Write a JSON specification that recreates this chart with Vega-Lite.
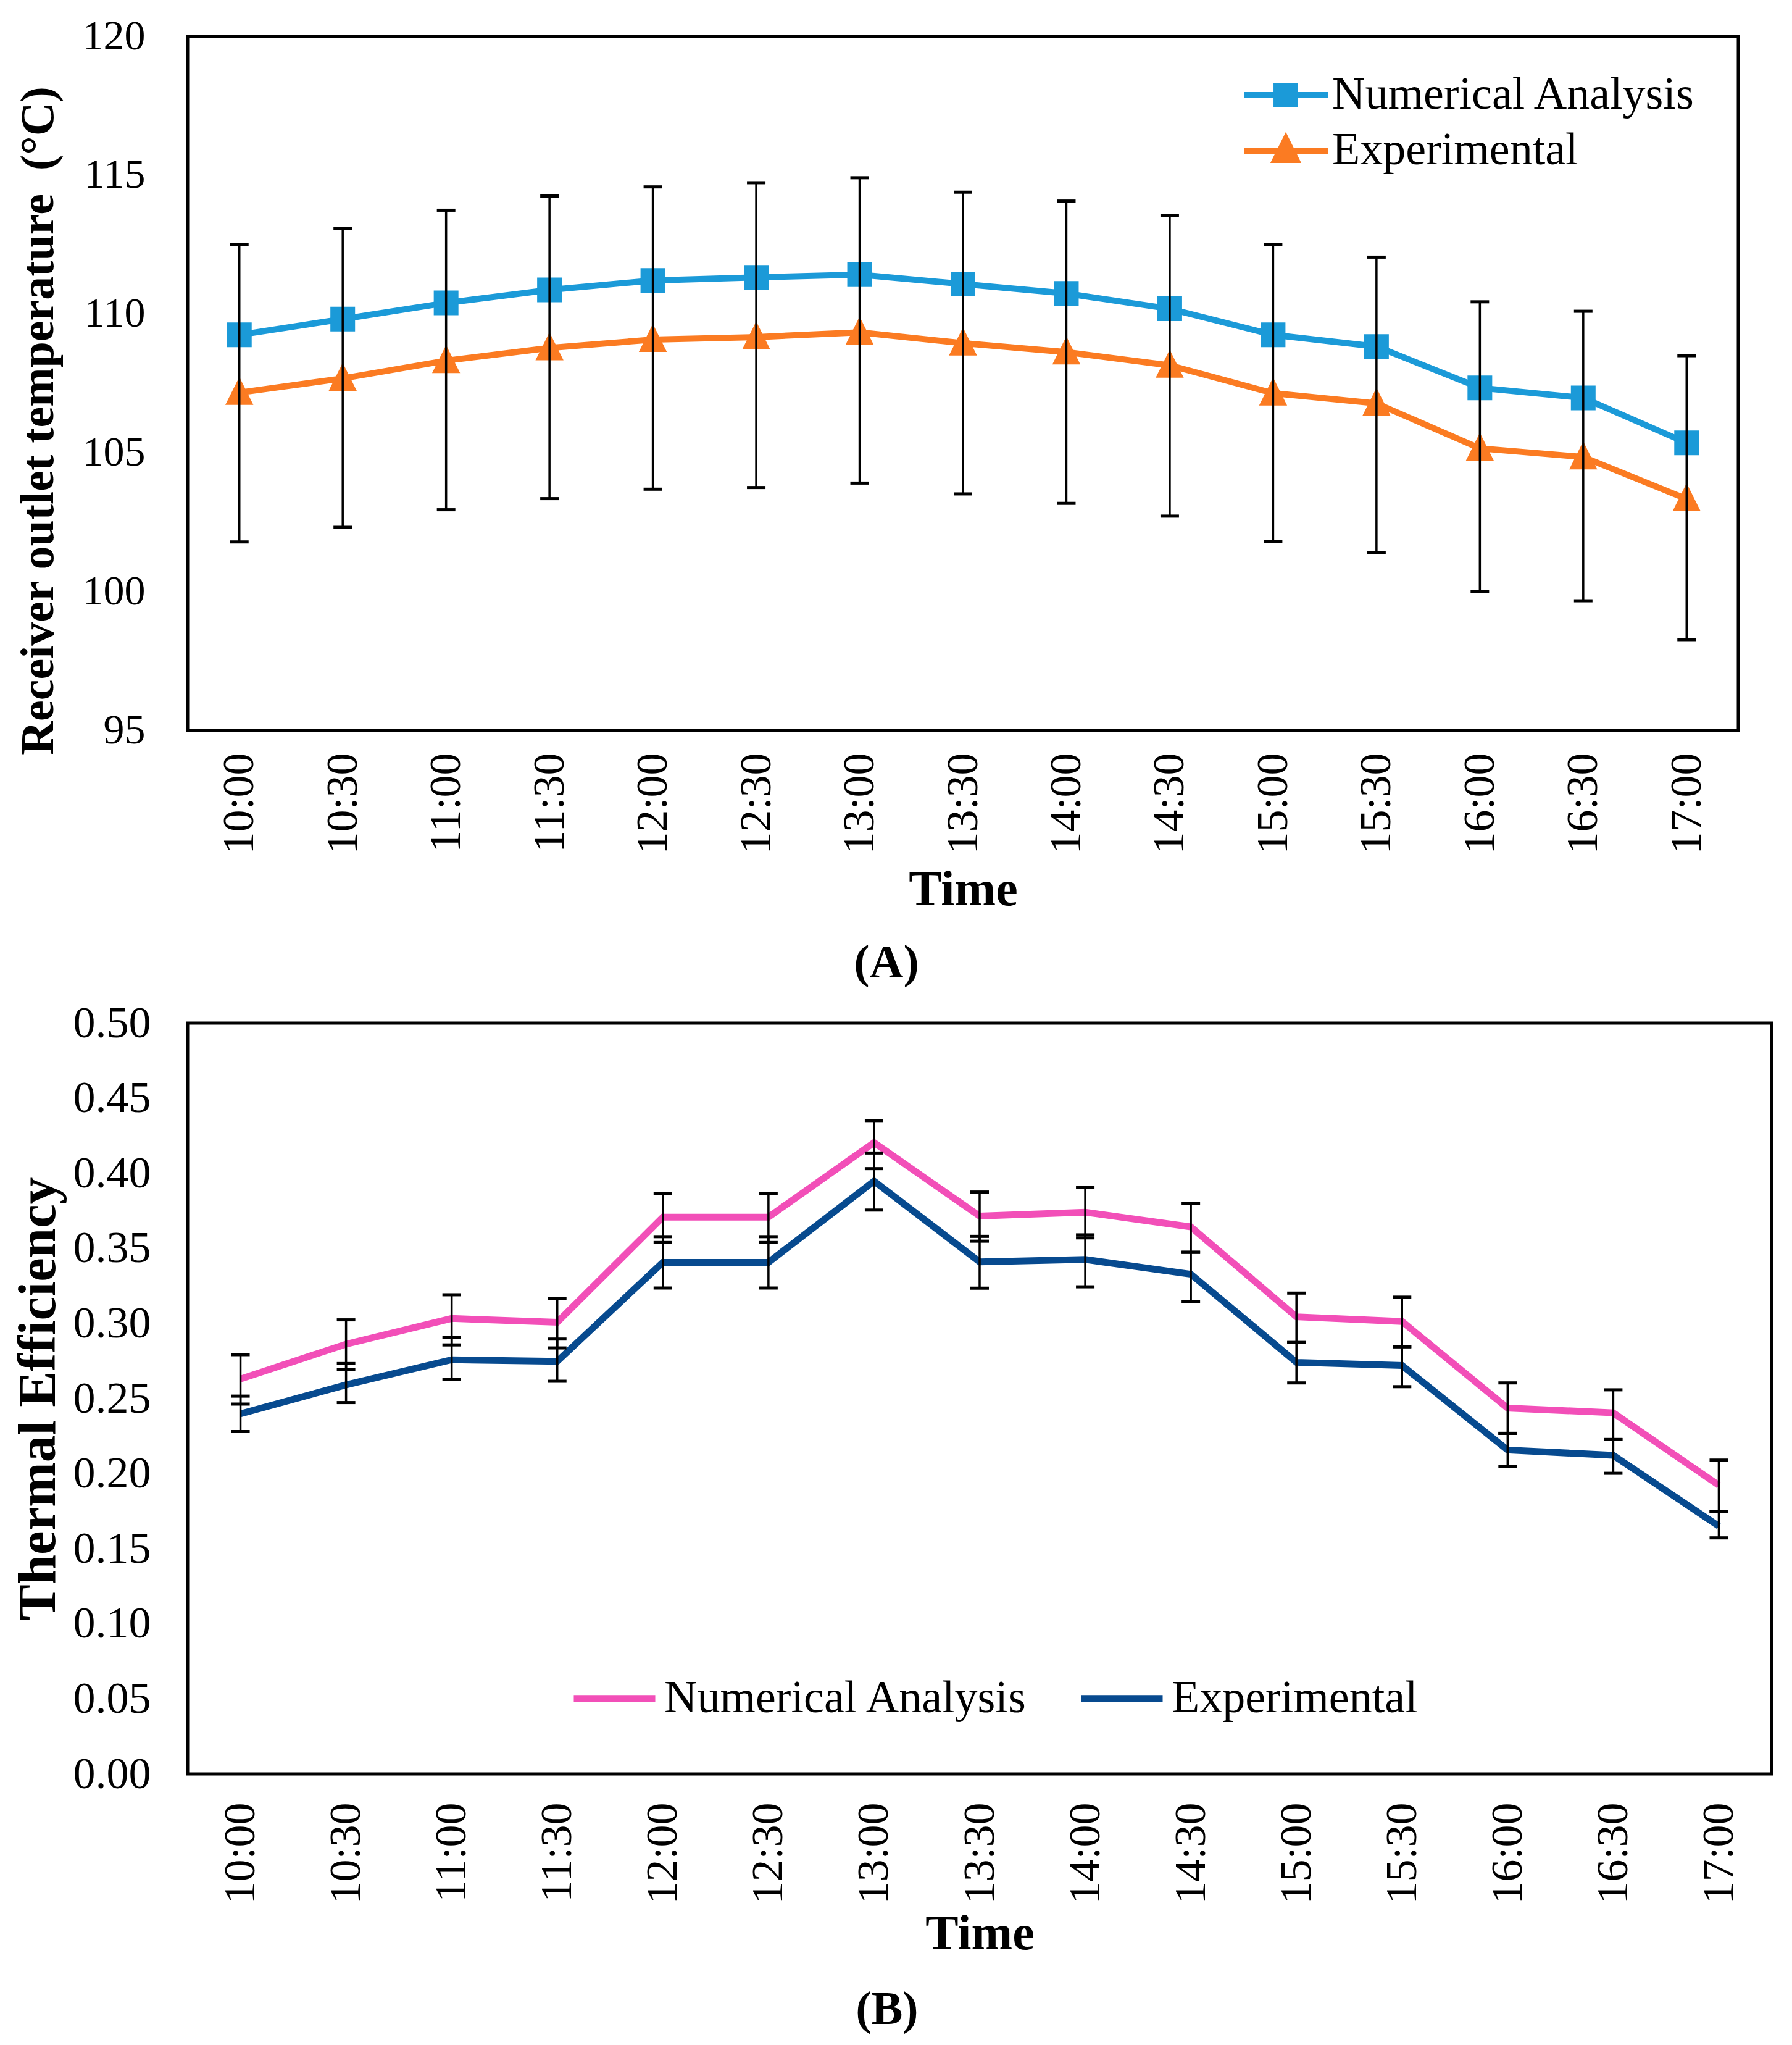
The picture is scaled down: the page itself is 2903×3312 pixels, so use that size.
{
  "$schema": "https://vega.github.io/schema/vega-lite/v6.json",
  "background": "white",
  "padding": {"left": 15, "top": 22, "right": 35, "bottom": 20},
  "spacing": 17,
  "config": {
    "view": {"stroke": "black", "strokeWidth": 5},
    "font": "Liberation Serif",
    "axis": {
      "grid": false, "domain": false, "ticks": false, "tickSize": 0,
      "labelFont": "Liberation Serif", "titleFont": "Liberation Serif",
      "labelColor": "black", "titleColor": "black", "titleFontWeight": "bold"
    }
  },
  "resolve": {"scale": {"color": "independent", "shape": "independent"}},
  "datasets": {
    "tempA": [
      {"time": "10:00", "series": "Numerical Analysis", "value": 109.25},
      {"time": "10:30", "series": "Numerical Analysis", "value": 109.82},
      {"time": "11:00", "series": "Numerical Analysis", "value": 110.40},
      {"time": "11:30", "series": "Numerical Analysis", "value": 110.87},
      {"time": "12:00", "series": "Numerical Analysis", "value": 111.21},
      {"time": "12:30", "series": "Numerical Analysis", "value": 111.32},
      {"time": "13:00", "series": "Numerical Analysis", "value": 111.42},
      {"time": "13:30", "series": "Numerical Analysis", "value": 111.08},
      {"time": "14:00", "series": "Numerical Analysis", "value": 110.74},
      {"time": "14:30", "series": "Numerical Analysis", "value": 110.19},
      {"time": "15:00", "series": "Numerical Analysis", "value": 109.25},
      {"time": "15:30", "series": "Numerical Analysis", "value": 108.83},
      {"time": "16:00", "series": "Numerical Analysis", "value": 107.34},
      {"time": "16:30", "series": "Numerical Analysis", "value": 106.98},
      {"time": "17:00", "series": "Numerical Analysis", "value": 105.36},
      {"time": "10:00", "series": "Experimental", "value": 107.17},
      {"time": "10:30", "series": "Experimental", "value": 107.68},
      {"time": "11:00", "series": "Experimental", "value": 108.32},
      {"time": "11:30", "series": "Experimental", "value": 108.78},
      {"time": "12:00", "series": "Experimental", "value": 109.08},
      {"time": "12:30", "series": "Experimental", "value": 109.17},
      {"time": "13:00", "series": "Experimental", "value": 109.34},
      {"time": "13:30", "series": "Experimental", "value": 108.95},
      {"time": "14:00", "series": "Experimental", "value": 108.63},
      {"time": "14:30", "series": "Experimental", "value": 108.15},
      {"time": "15:00", "series": "Experimental", "value": 107.15},
      {"time": "15:30", "series": "Experimental", "value": 106.78},
      {"time": "16:00", "series": "Experimental", "value": 105.16},
      {"time": "16:30", "series": "Experimental", "value": 104.85},
      {"time": "17:00", "series": "Experimental", "value": 103.34}
    ],
    "errA": [
      {"time": "10:00", "lo": 101.79, "hi": 112.51},
      {"time": "10:30", "lo": 102.32, "hi": 113.08},
      {"time": "11:00", "lo": 102.95, "hi": 113.74},
      {"time": "11:30", "lo": 103.35, "hi": 114.25},
      {"time": "12:00", "lo": 103.69, "hi": 114.58},
      {"time": "12:30", "lo": 103.75, "hi": 114.73},
      {"time": "13:00", "lo": 103.91, "hi": 114.91},
      {"time": "13:30", "lo": 103.52, "hi": 114.39},
      {"time": "14:00", "lo": 103.18, "hi": 114.07},
      {"time": "14:30", "lo": 102.72, "hi": 113.55},
      {"time": "15:00", "lo": 101.80, "hi": 112.51},
      {"time": "15:30", "lo": 101.40, "hi": 112.05},
      {"time": "16:00", "lo": 100.00, "hi": 110.44},
      {"time": "16:30", "lo": 99.67, "hi": 110.10},
      {"time": "17:00", "lo": 98.27, "hi": 108.50}
    ],
    "effB": [
      {"time": "10:00", "series": "Numerical Analysis", "value": 0.2630, "lo": 0.2463, "hi": 0.2792},
      {"time": "10:30", "series": "Numerical Analysis", "value": 0.2862, "lo": 0.2693, "hi": 0.3024},
      {"time": "11:00", "series": "Numerical Analysis", "value": 0.3033, "lo": 0.2857, "hi": 0.3191},
      {"time": "11:30", "series": "Numerical Analysis", "value": 0.3008, "lo": 0.2837, "hi": 0.3165},
      {"time": "12:00", "series": "Numerical Analysis", "value": 0.3708, "lo": 0.3539, "hi": 0.3866},
      {"time": "12:30", "series": "Numerical Analysis", "value": 0.3708, "lo": 0.3539, "hi": 0.3866},
      {"time": "13:00", "series": "Numerical Analysis", "value": 0.4204, "lo": 0.4031, "hi": 0.4351},
      {"time": "13:30", "series": "Numerical Analysis", "value": 0.3715, "lo": 0.3548, "hi": 0.3875},
      {"time": "14:00", "series": "Numerical Analysis", "value": 0.3741, "lo": 0.3570, "hi": 0.3905},
      {"time": "14:30", "series": "Numerical Analysis", "value": 0.3643, "lo": 0.3474, "hi": 0.3800},
      {"time": "15:00", "series": "Numerical Analysis", "value": 0.3044, "lo": 0.2873, "hi": 0.3202},
      {"time": "15:30", "series": "Numerical Analysis", "value": 0.3013, "lo": 0.2845, "hi": 0.3175},
      {"time": "16:00", "series": "Numerical Analysis", "value": 0.2436, "lo": 0.2268, "hi": 0.2604},
      {"time": "16:30", "series": "Numerical Analysis", "value": 0.2405, "lo": 0.2227, "hi": 0.2558},
      {"time": "17:00", "series": "Numerical Analysis", "value": 0.1922, "lo": 0.1748, "hi": 0.2090},
      {"time": "10:00", "series": "Experimental", "value": 0.2398, "lo": 0.2280, "hi": 0.2516},
      {"time": "10:30", "series": "Experimental", "value": 0.2591, "lo": 0.2473, "hi": 0.2733},
      {"time": "11:00", "series": "Experimental", "value": 0.2758, "lo": 0.2626, "hi": 0.2906},
      {"time": "11:30", "series": "Experimental", "value": 0.2748, "lo": 0.2615, "hi": 0.2896},
      {"time": "12:00", "series": "Experimental", "value": 0.3407, "lo": 0.3236, "hi": 0.3578},
      {"time": "12:30", "series": "Experimental", "value": 0.3407, "lo": 0.3236, "hi": 0.3578},
      {"time": "13:00", "series": "Experimental", "value": 0.3948, "lo": 0.3755, "hi": 0.4135},
      {"time": "13:30", "series": "Experimental", "value": 0.3410, "lo": 0.3235, "hi": 0.3580},
      {"time": "14:00", "series": "Experimental", "value": 0.3426, "lo": 0.3244, "hi": 0.3590},
      {"time": "14:30", "series": "Experimental", "value": 0.3328, "lo": 0.3146, "hi": 0.3474},
      {"time": "15:00", "series": "Experimental", "value": 0.2741, "lo": 0.2604, "hi": 0.2873},
      {"time": "15:30", "series": "Experimental", "value": 0.2720, "lo": 0.2579, "hi": 0.2845},
      {"time": "16:00", "series": "Experimental", "value": 0.2157, "lo": 0.2048, "hi": 0.2268},
      {"time": "16:30", "series": "Experimental", "value": 0.2122, "lo": 0.2002, "hi": 0.2227},
      {"time": "17:00", "series": "Experimental", "value": 0.1650, "lo": 0.1572, "hi": 0.1748}
    ]
  },
  "vconcat": [
    {
      "width": 2512,
      "height": 1124,
      "title": {"text": "(A)", "orient": "bottom", "font": "Liberation Serif", "fontSize": 76, "fontWeight": "bold", "color": "black", "anchor": "middle", "dx": -124, "offset": 42},
      "encoding": {
        "x": {
          "field": "time", "type": "ordinal", "sort": null,
          "scale": {"type": "point", "padding": 0.5},
          "axis": {"title": "Time", "labelAngle": 270, "labelFontSize": 72, "labelPadding": 36, "titleFontSize": 80, "titlePadding": 19}
        }
      },
      "layer": [
        {
          "data": {"name": "tempA"},
          "mark": {"type": "line", "strokeWidth": 10},
          "encoding": {
            "y": {
              "field": "value", "type": "quantitative", "title": "Receiver outlet temperature\u00a0\u00a0(°C)",
              "scale": {"domain": [95, 120]},
              "axis": {"values": [95, 100, 105, 110, 115, 120], "labelFontSize": 68, "labelPadding": 69, "titleFontSize": 76, "titleBaseline": "middle", "titleX": -242, "titleY": 622}
            },
            "color": {
              "field": "series", "type": "nominal",
              "scale": {"domain": ["Numerical Analysis", "Experimental"], "range": ["#1b9ad8", "#fb7b22"]}
            }
          }
        },
        {
          "data": {"name": "tempA"},
          "mark": {"type": "point", "filled": true, "size": 8264, "strokeWidth": 0, "opacity": 1},
          "encoding": {
            "y": {"field": "value", "type": "quantitative", "title": "Receiver outlet temperature\u00a0\u00a0(°C)", "scale": {"domain": [95, 120]}},
            "color": {
              "field": "series", "type": "nominal",
              "scale": {"domain": ["Numerical Analysis", "Experimental"], "range": ["#1b9ad8", "#fb7b22"]}
            },
            "shape": {
              "field": "series", "type": "nominal",
              "scale": {
                "domain": ["Numerical Analysis", "Experimental"],
                "range": ["M-2,0H2M-0.44,-0.44H0.44V0.44H-0.44Z", "M-2,0H2M0,-0.56L0.5,0.44L-0.5,0.44Z"]
              },
              "legend": {
                "title": null, "orient": "none", "legendX": 1740, "legendY": 56,
                "labelFont": "Liberation Serif", "labelFontSize": 74, "labelColor": "black", "labelLimit": 0,
                "symbolSize": 4624, "symbolStrokeWidth": 10, "labelOffset": 36, "rowPadding": 13,
                "encode": {
                  "symbols": {
                    "update": {
                      "fill": {"signal": "datum.value === 'Numerical Analysis' ? '#1b9ad8' : '#fb7b22'"},
                      "stroke": {"signal": "datum.value === 'Numerical Analysis' ? '#1b9ad8' : '#fb7b22'"},
                      "strokeWidth": {"value": 10},
                      "size": {"value": 4624},
                      "opacity": {"value": 1}
                    }
                  }
                }
              }
            }
          }
        },
        {
          "data": {"name": "errA"},
          "mark": {"type": "rule", "color": "black", "strokeWidth": 3.5},
          "encoding": {
            "y": {"field": "lo", "type": "quantitative", "title": "Receiver outlet temperature\u00a0\u00a0(°C)", "scale": {"domain": [95, 120]}},
            "y2": {"field": "hi"}
          }
        },
        {
          "data": {"name": "errA"},
          "mark": {"type": "tick", "color": "black", "size": 30, "thickness": 5, "opacity": 1},
          "encoding": {
            "y": {"field": "lo", "type": "quantitative", "title": "Receiver outlet temperature\u00a0\u00a0(°C)", "scale": {"domain": [95, 120]}}
          }
        },
        {
          "data": {"name": "errA"},
          "mark": {"type": "tick", "color": "black", "size": 30, "thickness": 5, "opacity": 1},
          "encoding": {
            "y": {"field": "hi", "type": "quantitative", "title": "Receiver outlet temperature\u00a0\u00a0(°C)", "scale": {"domain": [95, 120]}}
          }
        }
      ]
    },
    {
      "width": 2566,
      "height": 1216,
      "title": {"text": "(B)", "orient": "bottom", "font": "Liberation Serif", "fontSize": 76, "fontWeight": "bold", "color": "black", "anchor": "middle", "dx": -150, "offset": 46},
      "data": {"name": "effB"},
      "encoding": {
        "x": {
          "field": "time", "type": "ordinal", "sort": null,
          "scale": {"type": "point", "padding": 0.5},
          "axis": {"title": "Time", "labelAngle": 270, "labelFontSize": 72, "labelPadding": 46, "titleFontSize": 80, "titlePadding": 20}
        }
      },
      "layer": [
        {
          "mark": {"type": "line", "strokeWidth": 11},
          "encoding": {
            "y": {
              "field": "value", "type": "quantitative", "title": "Thermal Efficiency",
              "scale": {"domain": [0, 0.5]},
              "axis": {"values": [0, 0.05, 0.1, 0.15, 0.2, 0.25, 0.3, 0.35, 0.4, 0.45, 0.5], "format": ".2f", "labelFontSize": 72, "labelPadding": 60, "titleFontSize": 87, "titleBaseline": "middle", "titleX": -242}
            },
            "color": {
              "field": "series", "type": "nominal",
              "scale": {"domain": ["Numerical Analysis", "Experimental"], "range": ["#f24fb8", "#074a8f"]},
              "legend": {
                "title": null, "orient": "none", "direction": "horizontal", "legendX": 620, "legendY": 1022,
                "labelFont": "Liberation Serif", "labelFontSize": 74, "labelColor": "black", "labelLimit": 0,
                "symbolType": "stroke", "symbolStrokeWidth": 11, "symbolSize": 17424,
                "labelOffset": 9, "columnPadding": 63
              }
            }
          }
        },
        {
          "mark": {"type": "rule", "color": "black", "strokeWidth": 3.5},
          "encoding": {
            "y": {"field": "lo", "type": "quantitative", "title": "Thermal Efficiency", "scale": {"domain": [0, 0.5]}},
            "y2": {"field": "hi"}
          }
        },
        {
          "mark": {"type": "tick", "color": "black", "size": 30, "thickness": 5, "opacity": 1},
          "encoding": {
            "y": {"field": "lo", "type": "quantitative", "title": "Thermal Efficiency", "scale": {"domain": [0, 0.5]}}
          }
        },
        {
          "mark": {"type": "tick", "color": "black", "size": 30, "thickness": 5, "opacity": 1},
          "encoding": {
            "y": {"field": "hi", "type": "quantitative", "title": "Thermal Efficiency", "scale": {"domain": [0, 0.5]}}
          }
        }
      ]
    }
  ]
}
